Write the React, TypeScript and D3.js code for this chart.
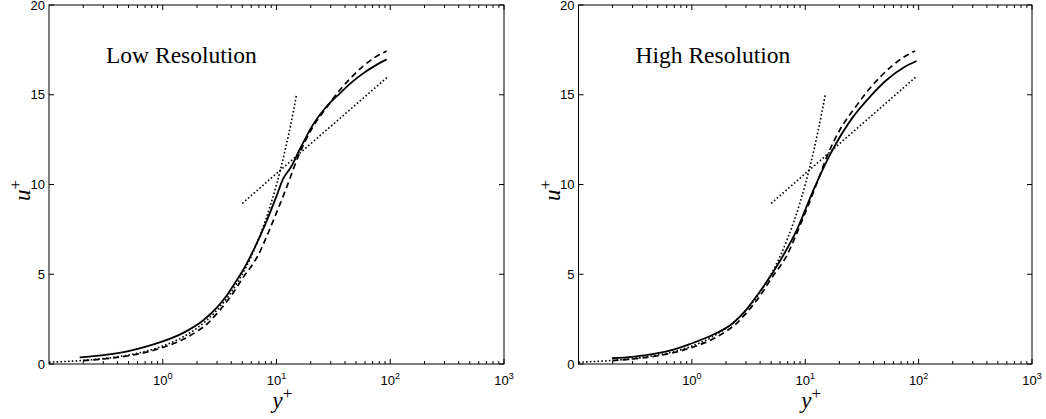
import React from "react";
import * as d3 from "d3";

// ---- data ----
const xTickExps = [0, 1, 2, 3];
const yTicks = [0, 5, 10, 15, 20];
const panelTitles = ["Low Resolution", "High Resolution"];

// reference (dashed), same in both panels
const refY = [0.2, 0.3, 0.5, 0.7, 1.0, 1.5, 2.0, 2.5, 3.0, 3.63, 4.3, 5.0, 6.0, 6.89, 8.0, 9.67, 11.2, 12.66, 15.5, 20, 28, 36, 46, 58, 72, 93];
const refU = [0.19, 0.28, 0.46, 0.64, 0.92, 1.36, 1.82, 2.28, 2.82, 3.45, 4.1, 4.75, 5.45, 6.05, 6.95, 8.2, 9.2, 10.07, 11.55, 13.0, 14.35, 15.26, 16.0, 16.6, 17.05, 17.44];

// low-resolution LES (solid, left)
const lowY = [0.186, 0.3, 0.5, 0.7, 0.94, 1.5, 2.26, 3.0, 3.64, 4.3, 5.0, 6.23, 8.17, 10.0, 11.4, 13.5, 16.0, 21.0, 28, 36.1, 46, 57.8, 75, 92.9];
const lowU = [0.37, 0.5, 0.72, 0.95, 1.2, 1.72, 2.42, 3.15, 3.8, 4.5, 5.15, 6.3, 7.95, 9.35, 10.3, 11.0, 11.95, 13.35, 14.4, 15.08, 15.7, 16.19, 16.65, 16.97];

// high-resolution LES (solid, right)
const highY = [0.197, 0.3, 0.5, 0.7, 0.97, 1.5, 2.33, 3.0, 3.74, 4.27, 6.0, 8.41, 11.8, 17.1, 26.5, 38, 52.2, 75, 96];
const highU = [0.32, 0.4, 0.6, 0.82, 1.12, 1.6, 2.3, 3.0, 3.8, 4.3, 5.75, 7.46, 9.69, 11.83, 13.78, 14.95, 15.82, 16.55, 16.88];

// viscous sublayer guide (dotted)
const linY = [0.1, 0.13, 0.2, 0.3, 0.5, 0.7, 1, 1.5, 2, 3, 4, 5, 6, 7, 8, 9, 10, 11, 12, 13, 14, 15];
const linU = [0.1, 0.13, 0.2, 0.3, 0.5, 0.7, 1, 1.5, 2, 3, 4, 5, 6, 7, 8, 9, 10, 11, 12, 13, 14, 15];

// log-law guide (dotted)
const logY = [5, 95];
const logU = [8.95, 16.0];

const zip = (a: number[], b: number[]) => a.map((v, i) => [v, b[i]] as [number, number]);

const TOP = 5;
const BOTTOM = 364;

function Panel({ left, right, title, solidY, solidU }: { left: number; right: number; title: string; solidY: number[]; solidU: number[] }) {
  const x = d3.scaleLog().domain([0.1, 1000]).range([left, right]);
  const y = d3.scaleLinear().domain([0, 20]).range([BOTTOM, TOP]);
  const line = d3
    .line<[number, number]>()
    .x((d) => x(d[0]))
    .y((d) => y(d[1]))
    .curve(d3.curveMonotoneX);

  const majors = xTickExps.map((e) => Math.pow(10, e));
  const minors: number[] = [];
  for (let e = -1; e < 3; e++) for (let m = 2; m <= 9; m++) minors.push(m * Math.pow(10, e));

  const tickFont = "'Liberation Sans', Arial, sans-serif";
  const serif = "'Liberation Serif', 'Times New Roman', serif";
  const cx = (left + right) / 2;

  return (
    <g>
      {/* curves */}
      <path d={line(zip(linY, linU)) || ""} fill="none" stroke="#000" strokeWidth={1.6} strokeDasharray="1.6,2.2" />
      <path d={line(zip(logY, logU)) || ""} fill="none" stroke="#000" strokeWidth={1.6} strokeDasharray="1.6,2.2" />
      <path d={line(zip(refY, refU)) || ""} fill="none" stroke="#000" strokeWidth={1.7} strokeDasharray="6,4" />
      <path d={line(zip(solidY, solidU)) || ""} fill="none" stroke="#000" strokeWidth={1.8} />

      {/* frame */}
      <rect x={left} y={TOP} width={right - left} height={BOTTOM - TOP} fill="none" stroke="#000" strokeWidth={1} />

      {/* x ticks */}
      {majors.map((v) => (
        <g key={"M" + v}>
          <line x1={x(v)} x2={x(v)} y1={BOTTOM} y2={BOTTOM - 5} stroke="#000" />
          <line x1={x(v)} x2={x(v)} y1={TOP} y2={TOP + 5} stroke="#000" />
        </g>
      ))}
      {minors.map((v) => (
        <g key={"m" + v}>
          <line x1={x(v)} x2={x(v)} y1={BOTTOM} y2={BOTTOM - 3} stroke="#000" />
          <line x1={x(v)} x2={x(v)} y1={TOP} y2={TOP + 3} stroke="#000" />
        </g>
      ))}
      {xTickExps.map((e) => (
        <text key={"xl" + e} x={x(Math.pow(10, e))} y={385} textAnchor="middle" fontFamily={tickFont} fontSize={13}>
          10
          <tspan dy={-6} fontSize={9}>
            {e}
          </tspan>
        </text>
      ))}

      {/* y ticks */}
      {yTicks.map((v) => (
        <g key={"y" + v}>
          <line x1={left} x2={left + 5} y1={y(v)} y2={y(v)} stroke="#000" />
          <line x1={right} x2={right - 5} y1={y(v)} y2={y(v)} stroke="#000" />
          <text x={left - 4} y={y(v) + 4.7} textAnchor="end" fontFamily={tickFont} fontSize={13}>
            {v}
          </text>
        </g>
      ))}

      {/* axis labels */}
      <text x={cx + 6} y={408} textAnchor="middle" fontFamily={serif} fontStyle="italic" fontSize={23}>
        y<tspan dy={-9} fontStyle="normal" fontSize={17}>+</tspan>
      </text>
      <text
        transform={`translate(${left - 19},${(TOP + BOTTOM) / 2 + 6}) rotate(-90)`}
        textAnchor="middle"
        fontFamily={serif}
        fontStyle="italic"
        fontSize={23}
      >
        u<tspan dy={-9} fontStyle="normal" fontSize={17}>+</tspan>
      </text>

      {/* title */}
      <text x={left + 57} y={63} fontFamily={serif} fontSize={23.5}>
        {title}
      </text>
    </g>
  );
}

export default function App() {
  return (
    <svg
      width={1046}
      height={419}
      style={{ position: "absolute", left: 0, top: 0, display: "block", background: "#fff" }}
    >
      <rect x={0} y={0} width={1046} height={419} fill="#fff" />
      <Panel left={49} right={504} title={panelTitles[0]} solidY={lowY} solidU={lowU} />
      <Panel left={578.5} right={1032} title={panelTitles[1]} solidY={highY} solidU={highU} />
    </svg>
  );
}
